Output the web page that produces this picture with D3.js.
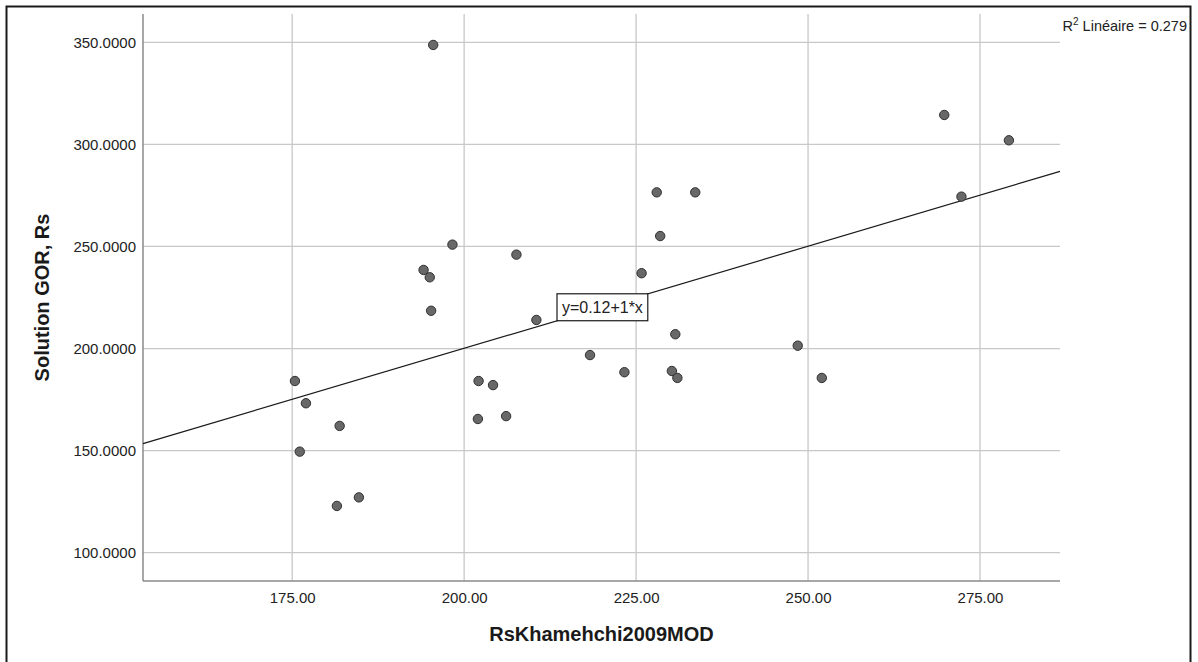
<!DOCTYPE html>
<meta charset="utf-8">
<style>
body { margin: 0; background: #fff; }
text { font-family: "Liberation Sans", Arial, sans-serif; fill: #222; }
.grid line { stroke: #c8c8c8; stroke-width: 1.3; }
.axis line, .axis path { stroke: #8a8a8a; stroke-width: 1.5; }
.dot { fill: #686868; stroke: #303030; stroke-width: 1; }
.title { font-size: 20px; font-weight: bold; fill: #1a1a1a; }
</style>
<body>
<script src="https://d3js.org/d3.v7.min.js"></script>
<script>

// values
const rsKhamehchi = [175.4, 177.0, 176.1, 181.9, 181.5, 184.7, 194.1, 195.0, 195.2, 195.5,
    198.3, 202.1, 204.2, 202.0, 206.1, 207.6, 210.5, 218.3, 223.3, 225.8,
    228.0, 228.5, 230.7, 230.2, 231.0, 233.6, 248.5, 252.0, 269.8, 272.3, 279.2]
const solutionGOR = [184.1, 173.2, 149.5, 162.1, 122.9, 127.1, 238.5, 234.9, 218.5, 348.7,
    250.9, 184.1, 182.1, 165.5, 166.9, 246.0, 214.0, 196.8, 188.4, 236.9,
    276.5, 255.1, 207.0, 189.0, 185.6, 276.5, 201.4, 185.6, 314.4, 274.4, 302.0]
const xTicks = [175, 200, 225, 250, 275]
const yTicks = [100, 150, 200, 250, 300, 350]
const fit = { intercept: 0.12, slope: 1, r2: 0.279 }

const width = 1198,
    height = 662,
    plotL = 143, plotR = 1060, plotT = 14, plotB = 581

const svg = d3.select('body').append('svg')
    .attr('width', width)
    .attr('height', height)

const x = d3.scaleLinear().domain([153.31, 286.63]).range([plotL, plotR])
const y = d3.scaleLinear().domain([86.14, 363.86]).range([plotB, plotT])

// outer frame
svg.append('rect')
    .attr('x', 6.5).attr('y', 6.5)
    .attr('width', 1184).attr('height', 670)
    .attr('fill', 'none').attr('stroke', '#1a1a1a').attr('stroke-width', 2)

// grid
svg.append('g').attr('class', 'grid')
    .selectAll('line').data(xTicks).enter().append('line')
    .attr('x1', d => x(d)).attr('x2', d => x(d))
    .attr('y1', plotT).attr('y2', plotB)
svg.append('g').attr('class', 'grid')
    .selectAll('line').data(yTicks).enter().append('line')
    .attr('x1', plotL).attr('x2', plotR)
    .attr('y1', d => y(d)).attr('y2', d => y(d))

// axes
svg.append('g').attr('class', 'axis')
    .attr('transform', `translate(0,${plotB})`)
    .call(d3.axisBottom(x).tickValues(xTicks).tickSize(0).tickPadding(11).tickFormat(d3.format('.2f')))
svg.append('g').attr('class', 'axis')
    .attr('transform', `translate(${plotL},0)`)
    .call(d3.axisLeft(y).tickValues(yTicks).tickSize(0).tickPadding(7).tickFormat(d3.format('.4f')))
svg.selectAll('.axis .domain').remove()
svg.append('g').attr('class', 'axis').call(g => {
    g.append('line').attr('x1', plotL).attr('x2', plotL).attr('y1', plotT).attr('y2', plotB)
    g.append('line').attr('x1', plotL).attr('x2', plotR).attr('y1', plotB).attr('y2', plotB)
})
svg.selectAll('.axis text')
    .style('font-size', '15px')
    .attr('fill', '#222')

// regression line
const [x0, x1] = x.domain()
svg.append('line')
    .attr('x1', x(x0)).attr('y1', y(fit.intercept + fit.slope * x0))
    .attr('x2', x(x1)).attr('y2', y(fit.intercept + fit.slope * x1))
    .attr('stroke', '#1a1a1a').attr('stroke-width', 1.2)

// points
svg.selectAll('.dot')
    .data(rsKhamehchi)
    .enter().append('circle')
    .attr('class', 'dot')
    .attr('cx', d => x(d))
    .attr('cy', (d, i) => y(solutionGOR[i]))
    .attr('r', 4.7)

// equation label, corners sitting on the line
const la = 213.5, lb = 226.7
const bx0 = x(la), bx1 = x(lb),
    by0 = y(fit.intercept + fit.slope * lb), by1 = y(fit.intercept + fit.slope * la)
svg.append('rect')
    .attr('x', bx0).attr('y', by0)
    .attr('width', bx1 - bx0).attr('height', by1 - by0)
    .attr('fill', '#fff').attr('stroke', '#1a1a1a').attr('stroke-width', 1.2)
svg.append('text')
    .attr('x', (bx0 + bx1) / 2).attr('y', (by0 + by1) / 2 + 6)
    .attr('text-anchor', 'middle')
    .style('font-size', '16px')
    .text('y=' + fit.intercept + '+' + fit.slope + '*x')

// R2
const r2 = svg.append('text')
    .attr('x', 1187).attr('y', 31)
    .attr('text-anchor', 'end')
    .style('font-size', '14.5px')
r2.append('tspan').text('R')
r2.append('tspan').attr('dy', -6).style('font-size', '10px').text('2')
r2.append('tspan').attr('dy', 6).text(' Linéaire = ' + fit.r2)

// axis titles
svg.append('text')
    .attr('class', 'title')
    .attr('transform', `translate(49,${(plotT + plotB) / 2}) rotate(-90)`)
    .attr('text-anchor', 'middle')
    .text('Solution GOR, Rs')
svg.append('text')
    .attr('class', 'title')
    .attr('x', (plotL + plotR) / 2).attr('y', 641)
    .attr('text-anchor', 'middle')
    .text('RsKhamehchi2009MOD')

</script>
</body>
